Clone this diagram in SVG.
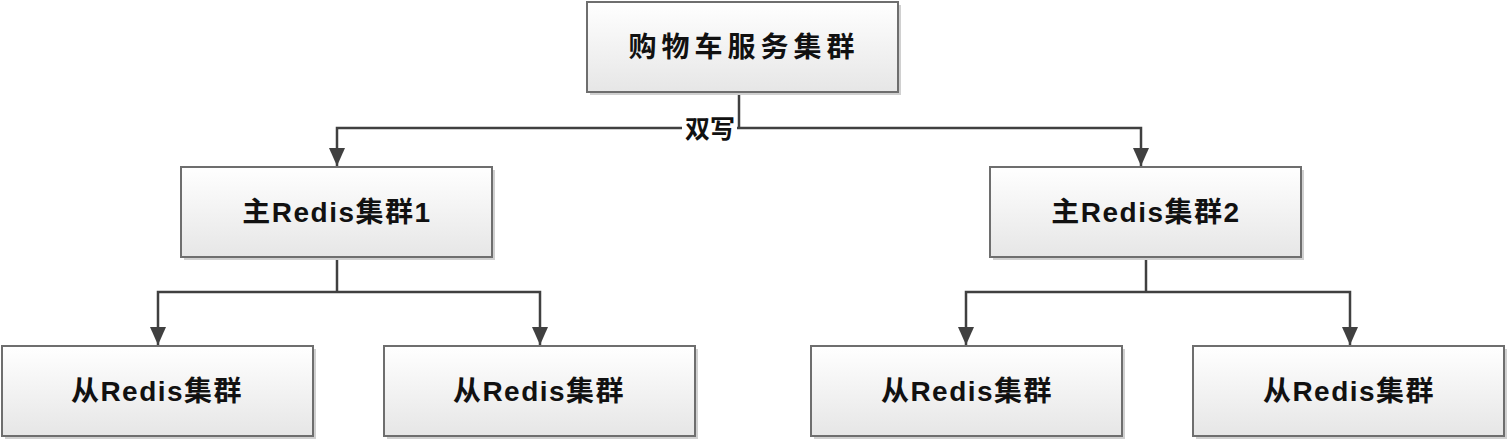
<svg xmlns="http://www.w3.org/2000/svg" width="1509" height="443" viewBox="0 0 1509 443">
<defs>
<linearGradient id="g" x1="0" y1="0" x2="0" y2="1">
<stop offset="0" stop-color="#ffffff"/>
<stop offset="1" stop-color="#e6e6e6"/>
</linearGradient>
<marker id="arr" markerWidth="18" markerHeight="16" refX="18" refY="8" orient="auto" markerUnits="userSpaceOnUse">
<path d="M0,0 L18,8 L0,16 Z" fill="#404040"/>
</marker>
</defs>
<style>
.box{fill:url(#g);stroke:#6e6e6e;stroke-width:2}
.sh{fill:#d0d0d0}
.t{font-family:"Liberation Sans","Noto Sans CJK SC",sans-serif;font-weight:bold;font-size:28px;letter-spacing:1.5px;fill:#111;text-anchor:middle}
.c{fill:none;stroke:#404040;stroke-width:2.5}
</style>
<g id="connectors">
<path class="c" d="M739,92 V128"/>
<path class="c" d="M739,128 H337 V166" marker-end="url(#arr)"/>
<path class="c" d="M739,128 H1141 V166" marker-end="url(#arr)"/>
<path class="c" d="M337,257 V292"/>
<path class="c" d="M337,292 H158 V345" marker-end="url(#arr)"/>
<path class="c" d="M337,292 H540 V345" marker-end="url(#arr)"/>
<path class="c" d="M1146,257 V292"/>
<path class="c" d="M1146,292 H966 V345" marker-end="url(#arr)"/>
<path class="c" d="M1146,292 H1350 V345" marker-end="url(#arr)"/>
<rect x="682" y="115" width="55" height="28" fill="#ffffff"/>
<text class="t" x="710" y="138" style="font-size:25px;letter-spacing:0">双写</text>
</g>
<g id="cart">
<rect class="sh" x="590" y="5" width="311" height="90"/>
<rect class="box" x="587" y="2" width="311" height="90"/>
<text class="t" x="744" y="57" style="letter-spacing:5px">购物车服务集群</text>
</g>
<g id="master1">
<rect class="sh" x="184" y="170" width="311" height="90"/>
<rect class="box" x="181" y="167" width="311" height="90"/>
<text class="t" x="337" y="222">主Redis集群1</text>
</g>
<g id="master2">
<rect class="sh" x="993" y="170" width="311" height="90"/>
<rect class="box" x="990" y="167" width="311" height="90"/>
<text class="t" x="1146" y="222">主Redis集群2</text>
</g>
<g id="slave1">
<rect class="sh" x="5" y="349" width="311" height="90"/>
<rect class="box" x="2" y="346" width="311" height="90"/>
<text class="t" x="157" y="401">从Redis集群</text>
</g>
<g id="slave2">
<rect class="sh" x="387" y="349" width="311" height="90"/>
<rect class="box" x="384" y="346" width="311" height="90"/>
<text class="t" x="539" y="401">从Redis集群</text>
</g>
<g id="slave3">
<rect class="sh" x="814" y="349" width="311" height="90"/>
<rect class="box" x="811" y="346" width="311" height="90"/>
<text class="t" x="967" y="401">从Redis集群</text>
</g>
<g id="slave4">
<rect class="sh" x="1196" y="349" width="311" height="90"/>
<rect class="box" x="1193" y="346" width="311" height="90"/>
<text class="t" x="1349" y="401">从Redis集群</text>
</g>
</svg>
